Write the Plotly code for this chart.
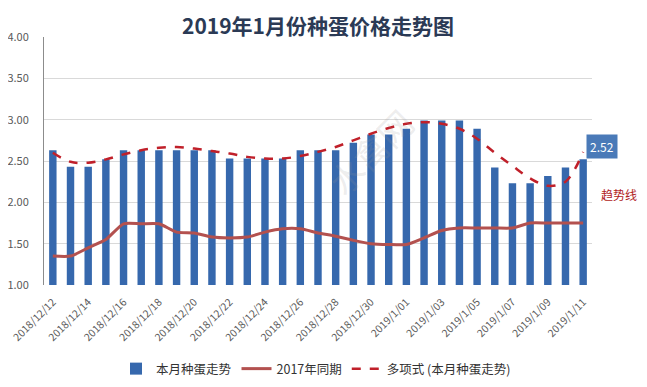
import plotly.graph_objects as go

dates = [f"2018/12/{d}" for d in range(12, 32)] + [f"2019/1/{d:02d}" for d in range(1, 12)]
tick_labels = dates[::2]

current = [2.63, 2.43, 2.43, 2.52, 2.63, 2.63, 2.63, 2.63, 2.63, 2.63,
           2.53, 2.53, 2.53, 2.53, 2.63, 2.63, 2.63, 2.72, 2.82, 2.82,
           2.89, 2.99, 2.99, 2.99, 2.89, 2.42, 2.23, 2.23, 2.32, 2.42, 2.52]
same_2017 = [1.35, 1.35, 1.45, 1.55, 1.74, 1.74, 1.74, 1.64, 1.63, 1.58,
             1.57, 1.58, 1.64, 1.68, 1.68, 1.63, 1.59, 1.54, 1.50, 1.49,
             1.49, 1.57, 1.66, 1.69, 1.69, 1.69, 1.69, 1.75, 1.75, 1.75, 1.75]
trend = [2.60, 2.49, 2.48, 2.52, 2.58, 2.63, 2.66, 2.67, 2.65, 2.62,
         2.59, 2.55, 2.53, 2.53, 2.56, 2.61, 2.67, 2.75, 2.83, 2.90,
         2.95, 2.97, 2.95, 2.89, 2.77, 2.60, 2.44, 2.29, 2.20, 2.25, 2.61]

y_ticks = [1.0, 1.5, 2.0, 2.5, 3.0, 3.5, 4.0]

FONT = "Noto Sans CJK SC, Liberation Sans, sans-serif"

# page body has an 8px margin, so the figure is smaller and all positions shift by 8
OFF = 8
W, H = 647 - OFF, 387 - 2 * OFF

fig = go.Figure()
fig.add_trace(go.Bar(
    x=dates, y=current, name="本月种蛋走势",
    marker=dict(color="#3668ad", line=dict(width=0)),
    base=0,
))
fig.add_trace(go.Scatter(
    x=dates, y=same_2017, name="2017年同期", mode="lines",
    line=dict(color="#b3514f", width=3, shape="spline", smoothing=0.6),
))
fig.add_trace(go.Scatter(
    x=dates, y=trend, name="多项式 (本月种蛋走势)", mode="lines",
    line=dict(color="#c0202a", width=2.5, dash="dash", shape="spline", smoothing=1.0),
))

fig.add_annotation(
    x=dates[-1], y=2.67, xref="x", yref="y", text="2.52",
    showarrow=False, xanchor="left", xshift=3,
    bgcolor="#4a7ab8", font=dict(color="white", size=12, family=FONT),
    borderpad=3,
)
fig.add_annotation(
    x=1.0, y=(285 - 194) / 248, xref="paper", yref="paper", text="趋势线",
    showarrow=False, xanchor="left", xshift=7,
    font=dict(color="#b01c22", size=12, family=FONT),
)
fig.add_annotation(
    x=(370 - 44) / 548, y=(285 - 95) / 248, xref="paper", yref="paper",
    text="水禽网", showarrow=False, textangle=-45,
    font=dict(color="rgba(150,150,150,0.18)", size=34, family=FONT),
)

fig.update_layout(
    width=W, height=H,
    margin=dict(l=44 - OFF, r=W - 592 + OFF, t=37 - OFF, b=H - 285 + OFF, autoexpand=False),
    paper_bgcolor="white", plot_bgcolor="white",
    title=dict(text="<b>2019年1月份种蛋价格走势图</b>", x=(318 - OFF) / W, xanchor="center",
               y=1 - (27 - OFF) / H, yanchor="middle", xref="container", yref="container",
               font=dict(size=21, color="#2b3a55", family=FONT)),
    bargap=0.58,
    showlegend=True,
    legend=dict(orientation="h", xref="container", yref="container",
                x=(316 - OFF) / W, xanchor="center",
                y=1 - (369 - OFF) / H, yanchor="middle",
                font=dict(size=12.5, color="#333333", family=FONT),
                tracegroupgap=0),
    font=dict(family=FONT),
)
fig.update_xaxes(
    type="category", range=[-0.5, len(dates) - 0.5],
    tickmode="array", tickvals=tick_labels, ticktext=tick_labels,
    tickangle=-45, tickfont=dict(size=10.5, color="#595959", family=FONT),
    showgrid=False, showline=False, ticks="", automargin=False, ticklabelstandoff=8,
)
fig.update_yaxes(
    range=[1.0, 4.0], tickvals=y_ticks, ticktext=[f"{v:.2f}" for v in y_ticks],
    tickfont=dict(size=11, color="#595959", family=FONT),
    showgrid=True, gridcolor="#d9d9d9", gridwidth=1,
    showline=True, linecolor="#8c8c8c", linewidth=1, zeroline=False, ticks="",
    automargin=False, ticklabelstandoff=12,
)

fig.write_html("out.html")
